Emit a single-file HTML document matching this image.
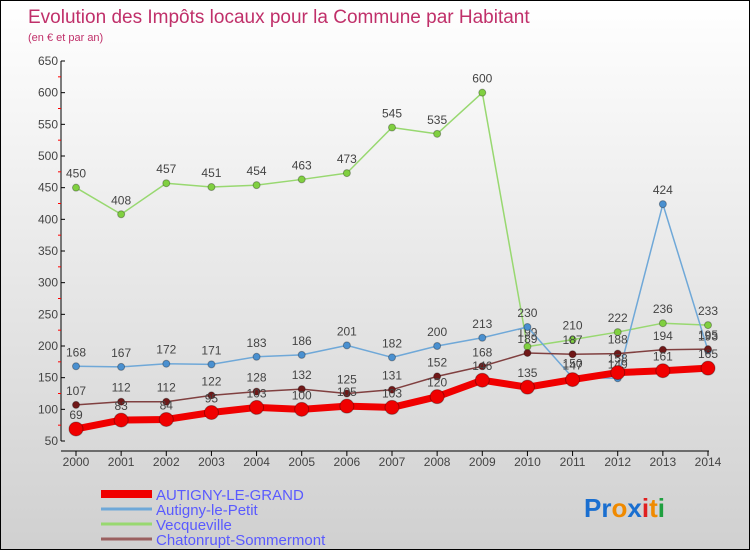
<!DOCTYPE html>
<html><head><meta charset="utf-8"><style>
body{margin:0}
#wrap{width:748px;height:548px;border:1px solid #000;background:linear-gradient(#fff,#d0d0d0);position:relative;font-family:"Liberation Sans",sans-serif;overflow:hidden}
</style></head><body>
<div id="wrap">
<svg width="748" height="548" id="svg" style="position:absolute;left:0;top:0">
<text x="27" y="22" font-size="19" fill="#c0306a">Evolution des Impôts locaux pour la Commune par Habitant</text>
<text x="27" y="40" font-size="11" fill="#c0306a">(en € et par an)</text>
<g id="axes"></g><g id="series"></g>
<g>
<line x1="100" y1="493" x2="151" y2="493" stroke="#f00000" stroke-width="8"/>
<text x="155" y="499" font-size="15" fill="#5a5aff">AUTIGNY-LE-GRAND</text>
<line x1="100" y1="508" x2="151" y2="508" stroke="#6fa8d8" stroke-width="3"/>
<text x="155" y="514" font-size="15" fill="#5a5aff">Autigny-le-Petit</text>
<line x1="100" y1="523" x2="151" y2="523" stroke="#98d870" stroke-width="3"/>
<text x="155" y="529" font-size="15" fill="#5a5aff">Vecqueville</text>
<line x1="100" y1="538" x2="151" y2="538" stroke="#9a6060" stroke-width="3"/>
<text x="155" y="544" font-size="15" fill="#5a5aff">Chatonrupt-Sommermont</text>
</g>
<text x="583" y="516" font-size="26" font-weight="bold"><tspan fill="#1a6fd0">Pr</tspan><tspan fill="#f08a00">o</tspan><tspan fill="#1a6fd0">x</tspan><tspan fill="#e02020">i</tspan><tspan fill="#f08a00">t</tspan><tspan fill="#20a040">i</tspan></text>
</svg></div>
<script>
const years=[2000,2001,2002,2003,2004,2005,2006,2007,2008,2009,2010,2011,2012,2013,2014];
const yTicks=[50,100,150,200,250,300,350,400,450,500,550,600,650];
const grand=[69,83,84,95,103,100,105,103,120,146,135,147,158,161,165];
const petit=[168,167,172,171,183,186,201,182,200,213,230,150,149,424,193];
const vecq=[450,408,457,451,454,463,473,545,535,600,199,210,222,236,233];
const chaton=[107,112,112,122,128,132,125,131,152,168,189,187,188,194,195];
const NS="http://www.w3.org/2000/svg";
const X=i=>75+i*(632/14);
const Y=v=>60+(650-v)*(380/600);
function mk(t,a,p){const e=document.createElementNS(NS,t);for(const k in a)e.setAttribute(k,a[k]);p.appendChild(e);return e;}
const ax=document.getElementById('axes');
let e=mk('line',{x1:60,y1:60,x2:60,y2:440,stroke:'#000'},ax);


e=mk('line',{x1:60,y1:450,x2:708,y2:450,stroke:'#000'},ax);


yTicks.forEach((v,i)=>{
  mk('line',{x1:60,y1:Y(v),x2:64,y2:Y(v),stroke:'#000'},ax);
  if(i<yTicks.length-1)mk('line',{x1:57,y1:Y(v+25),x2:60,y2:Y(v+25),stroke:'#f00'},ax);
  const t=mk('text',{x:57,y:Y(v)+4,'text-anchor':'end','font-size':12,fill:'#444'},ax);t.textContent=v;
  
  
});
years.forEach((y,i)=>{
  mk('line',{x1:X(i),y1:450,x2:X(i),y2:455,stroke:'#000'},ax);
  const t=mk('text',{x:X(i),y:465,'text-anchor':'middle','font-size':12,fill:'#444'},ax);t.textContent=y;
  
  
});
const sg=document.getElementById('series');
function series(d,name,col,w,r,fill){
  const g=mk('g',{},sg);
  
  
  mk('polyline',{points:d.map((v,i)=>X(i)+','+Y(v)).join(' '),fill:'none',stroke:col,'stroke-width':w,'stroke-linejoin':'round'},g);
  d.forEach((v,i)=>{
    const c=mk('circle',{cx:X(i),cy:Y(v),r:r,fill:fill,stroke:'rgba(0,0,0,0.3)'},g);
    
    
    const t=mk('text',{x:X(i),y:Y(v)-10,'text-anchor':'middle','font-size':12,fill:'#444'},g);t.textContent=v;
    
    
  });
}
series(vecq,'vecqueville','#98d870',1.5,3.5,'#80d040');
series(petit,'autigny-le-petit','#6fa8d8',1.5,3.5,'#4a90d0');
series(chaton,'chatonrupt','#804040',1.5,3.5,'#701818');
series(grand,'autigny-le-grand','#f00000',7,7,'#f00000');
</script>
</body></html>
